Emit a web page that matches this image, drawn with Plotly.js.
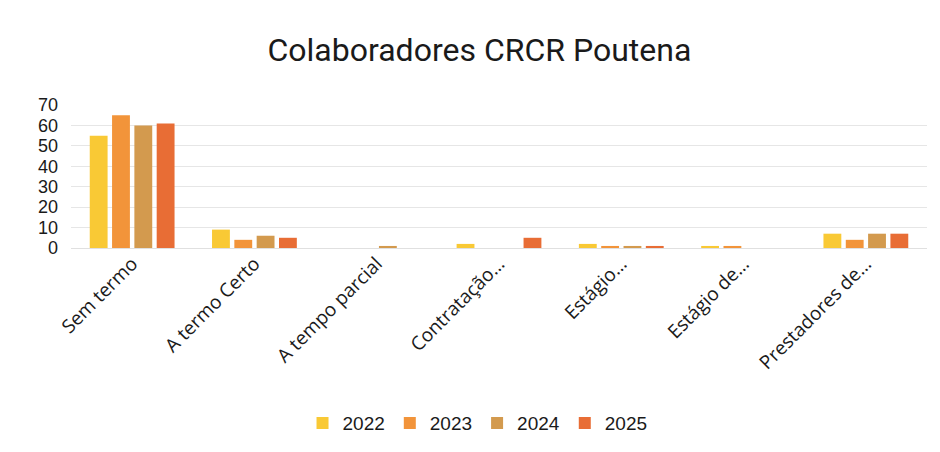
<!DOCTYPE html>
<html>
<head>
<meta charset="utf-8">
<script src="https://cdn.plot.ly/plotly-3.0.1.min.js"></script>
<style>html,body{margin:0;padding:0;background:#fff;}#chart{width:940px;height:452px;}</style>
</head>
<body>
<div id="chart"></div>
<script>
const categories = ["Sem termo", "A termo Certo", "A tempo parcial", "Contratação…", "Estágio…", "Estágio de…", "Prestadores de…"];
const years = ["2022", "2023", "2024", "2025"];
const values2022 = [55, 9, 0, 2, 2, 1, 7];
const values2023 = [65, 4, 0, 0, 1, 1, 4];
const values2024 = [60, 6, 1, 0, 1, 0, 7];
const values2025 = [61, 5, 0, 5, 1, 0, 7];
const colors = ["#F9C935", "#F2943A", "#D39A4E", "#E86D35"];
const series = [values2022, values2023, values2024, values2025];

const traces = series.map((vals, i) => ({
  type: "bar",
  name: years[i],
  x: categories,
  y: vals,
  marker: {color: colors[i]},
  hoverinfo: "x+y+name"
}));

const layout = {
  width: 940,
  height: 452,
  paper_bgcolor: "#ffffff",
  plot_bgcolor: "#ffffff",
  font: {family: "Liberation Sans, Arial, sans-serif", color: "#222"},
  title: {
    text: "Colaboradores CRCR Poutena",
    font: {family: "Roboto, Liberation Sans, sans-serif", size: 32, color: "#1a1a1a"},
    x: 0.51, xanchor: "center",
    y: 0.89, yanchor: "middle"
  },
  margin: {l: 71, r: 13, t: 105, b: 204},
  barmode: "group",
  bargap: 0.27,
  bargroupgap: 0.2,
  xaxis: {
    type: "category",
    tickangle: -45,
    tickfont: {family: "Open Sans, Liberation Sans, sans-serif", size: 19, color: "#1a1a1a"},
    showgrid: false,
    showline: false,
    ticks: "",
    zeroline: false
  },
  yaxis: {
    range: [0, 70],
    dtick: 10,
    tickfont: {family: "Liberation Sans, Arial, sans-serif", size: 18, color: "#1a1a1a"},
    showgrid: true,
    gridcolor: "#e6e6e6",
    gridwidth: 1,
    zeroline: true,
    zerolinecolor: "#e0e0e0",
    zerolinewidth: 1,
    showline: false,
    ticks: "",
    ticklabelstandoff: 12
  },
  showlegend: true,
  legend: {
    orientation: "h",
    x: 0.508, xanchor: "center", xref: "container",
    y: 0.064, yanchor: "middle", yref: "container",
    font: {family: "Liberation Sans, Arial, sans-serif", size: 19, color: "#1a1a1a"},
    traceorder: "normal"
  }
};

Plotly.newPlot("chart", traces, layout, {displayModeBar: false, staticPlot: true});
</script>
</body>
</html>
